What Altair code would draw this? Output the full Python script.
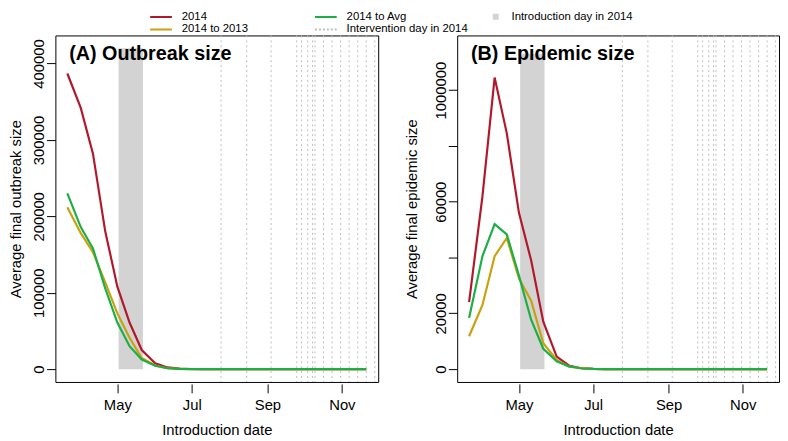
import altair as alt
import pandas as pd

# ---------------- data ----------------
dates = [
    "2014-03-21", "2014-04-01", "2014-04-11", "2014-04-21",
    "2014-05-01", "2014-05-11", "2014-05-21",
    "2014-06-01", "2014-06-11", "2014-06-21",
    "2014-07-01", "2014-07-11", "2014-07-21",
    "2014-08-01", "2014-08-11", "2014-08-21",
    "2014-09-01", "2014-09-11", "2014-09-21",
    "2014-10-01", "2014-10-11", "2014-10-21",
    "2014-11-01", "2014-11-11", "2014-11-21",
]
series_names = ["2014", "2014 to 2013", "2014 to Avg"]

outbreak_2014 = [387000, 342000, 282000, 181000, 108000, 61000, 25000, 7700, 2200, 600, 150, 50, 0,
                 0, 0, 0, 0, 0, 0, 0, 0, 0, 0, 0, 0]
outbreak_2013 = [212000, 178000, 153000, 114000, 73000, 41000, 14500, 4700, 1200, 300, 80, 0, 0,
                 0, 0, 0, 0, 0, 0, 0, 0, 0, 0, 0, 0]
outbreak_avg = [230000, 186000, 158000, 106000, 61000, 30000, 12500, 4500, 1200, 300, 80, 0, 0,
                0, 0, 0, 0, 0, 0, 0, 0, 0, 0, 0, 0]

epidemic_2014 = [24000, 62000, 104500, 84500, 56000, 39000, 17000, 4500, 1300, 300, 80, 0, 0,
                 0, 0, 0, 0, 0, 0, 0, 0, 0, 0, 0, 0]
epidemic_2013 = [11800, 23000, 40500, 47000, 32500, 24500, 9300, 3300, 1000, 300, 80, 0, 0,
                 0, 0, 0, 0, 0, 0, 0, 0, 0, 0, 0, 0]
epidemic_avg = [18300, 40500, 52000, 48300, 33500, 17700, 7300, 2800, 1000, 300, 80, 0, 0,
                0, 0, 0, 0, 0, 0, 0, 0, 0, 0, 0, 0]

intervention_days = [
    "2014-07-25", "2014-08-15", "2014-09-04", "2014-09-25", "2014-09-29",
    "2014-10-04", "2014-10-08", "2014-10-10", "2014-10-17", "2014-10-24",
    "2014-10-31", "2014-11-07", "2014-11-14", "2014-11-21", "2014-11-28",
]
introduction_start = "2014-05-02"
introduction_end = "2014-05-22"
introduction_top_a = 420000
introduction_top_b = 113000

panel_titles = ["(A) Outbreak size", "(B) Epidemic size"]
y_titles = ["Average final outbreak size", "Average final epidemic size"]
x_title = "Introduction date"

# legend entries, column by column (2 rows x 3 columns)
legend_labels = ["2014", "2014 to 2013", "2014 to Avg",
                 "Intervention day in 2014", "Introduction day in 2014"]

# ---------------- styles ----------------
line_colors = ["#B2182B", "#C9A10E", "#1DAF46"]
legend_colors = ["#B2182B", "#C9A10E", "#1DAF46", "#BEBEBE", "#D3D3D3"]
line_path = "M-1,0H3.4"
square_path = "M1.6,-0.4H2.8M1.6,0H2.8M1.6,0.4H2.8"
legend_shapes = [line_path, line_path, line_path, line_path, square_path]
legend_dashes = [[1, 0], [1, 0], [1, 0], [2, 2], [1, 0]]
FONT = "Liberation Sans"
W_A, W_B, H = 327, 326, 351


def t(d):
    return d + "T00:00"


def lines_df(vals):
    rows = []
    for name, series in zip(series_names, vals):
        for d, v in zip(dates, series):
            rows.append({"date": t(d), "value": v, "series": name})
    return pd.DataFrame(rows)


x_scale = alt.Scale(domain=[alt.DateTime(year=2014, month=3, date=11, hours=5),
                            alt.DateTime(year=2014, month=11, date=30, hours=19)])
x_axis = alt.Axis(values=[alt.DateTime(year=2014, month=m, date=1) for m in (5, 7, 9, 11)],
                  format="%b", title=x_title, labelAngle=0, tickSize=9, offset=2,
                  labelPadding=5, titlePadding=10)


def x_enc(field="date"):
    return alt.X(f"{field}:T", scale=x_scale, axis=x_axis)


def panel(idx, vals, ydomain, yvalues, top, title_x, label_expr, width, with_legend):
    y_scale = alt.Scale(domain=ydomain, nice=False, zero=False)
    y_axis = alt.Axis(values=yvalues, labelExpr=label_expr, title=y_titles[idx],
                      labelAngle=270, labelAlign="center", labelBaseline="alphabetic",
                      tickSize=9, labelPadding=3, titleAngle=270, titleAlign="center",
                      titleBaseline="bottom", titleX=title_x, titleY=H / 2)

    def y_enc(field="value"):
        return alt.Y(f"{field}:Q", scale=y_scale, axis=y_axis)

    band_df = pd.DataFrame({"date": [t(introduction_start)], "date_end": [t(introduction_end)],
                            "value": [0], "value_top": [top]})
    band = alt.Chart(band_df).mark_rect(color="#D3D3D3").encode(
        x=x_enc(), x2="date_end:T", y=y_enc(), y2="value_top:Q")

    rule_df = pd.DataFrame({"date": [t(d) for d in intervention_days]})
    rules = alt.Chart(rule_df).mark_rule(color="#BEBEBE", strokeDash=[2, 3], strokeWidth=1).encode(
        x=x_enc())

    lines = alt.Chart(lines_df(vals)).mark_line(strokeWidth=2.2).encode(
        x=x_enc(), y=y_enc(),
        color=alt.Color("series:N", scale=alt.Scale(domain=series_names, range=line_colors),
                        legend=None),
    )

    title_df = pd.DataFrame({"label": [panel_titles[idx]]})
    title = alt.Chart(title_df).mark_text(
        align="left", baseline="alphabetic", font=FONT, fontSize=20, fontWeight="bold",
        color="black").encode(x=alt.value(14), y=alt.value(25), text="label:N")

    layers = [band, rules, lines, title]
    if with_legend:
        leg = alt.Legend(title=None, orient="none", legendX=95, legendY=-25, columns=3,
                         gridAlign="all", columnPadding=8, rowPadding=1, symbolSize=100,
                         symbolStrokeWidth=2, symbolOpacity=1, symbolFillColor="transparent",
                         labelFontSize=11.5, labelFont=FONT, labelColor="black", labelOffset=21,
                         padding=0, labelLimit=300)
        ldf = pd.DataFrame({"entry": legend_labels, "date": [t(dates[0])] * 5, "value": [0] * 5})
        dummy = alt.Chart(ldf).mark_point(opacity=0, filled=False).encode(
            x=x_enc(), y=y_enc(),
            stroke=alt.Stroke("entry:N", scale=alt.Scale(domain=legend_labels, range=legend_colors),
                              legend=leg),
            shape=alt.Shape("entry:N", scale=alt.Scale(domain=legend_labels, range=legend_shapes),
                            legend=leg),
            strokeDash=alt.StrokeDash("entry:N",
                                      scale=alt.Scale(domain=legend_labels, range=legend_dashes),
                                      legend=leg),
        )
        layers.append(dummy)
    return alt.layer(*layers).properties(width=width, height=H)


label_a = "format(datum.value, 'd')"
label_b = ("datum.value == 40000 || datum.value == 80000 ? '' : "
           "(datum.value == 100000 ? '1000000' : format(datum.value, 'd'))")

panel_a = panel(0, [outbreak_2014, outbreak_2013, outbreak_avg], [-16800, 436800],
                [0, 100000, 200000, 300000, 400000], introduction_top_a, -32, label_a, W_A, True)
panel_b = panel(1, [epidemic_2014, epidemic_2013, epidemic_avg], [-4600, 119600],
                [0, 20000, 40000, 60000, 80000, 100000], introduction_top_b, -38, label_b, W_B, False)

chart = alt.hconcat(panel_a, panel_b, spacing=25).properties(padding=0).configure_view(
    stroke="black", strokeWidth=1
).configure_axis(
    domain=False, grid=False, tickColor="black", tickWidth=1, labelColor="black",
    titleColor="black", labelFont=FONT, titleFont=FONT, labelFontSize=15, titleFontSize=15,
    titleFontWeight="normal", labelOverlap=False
)

chart.save("out.html", embed_options={"renderer": "svg", "actions": False})
